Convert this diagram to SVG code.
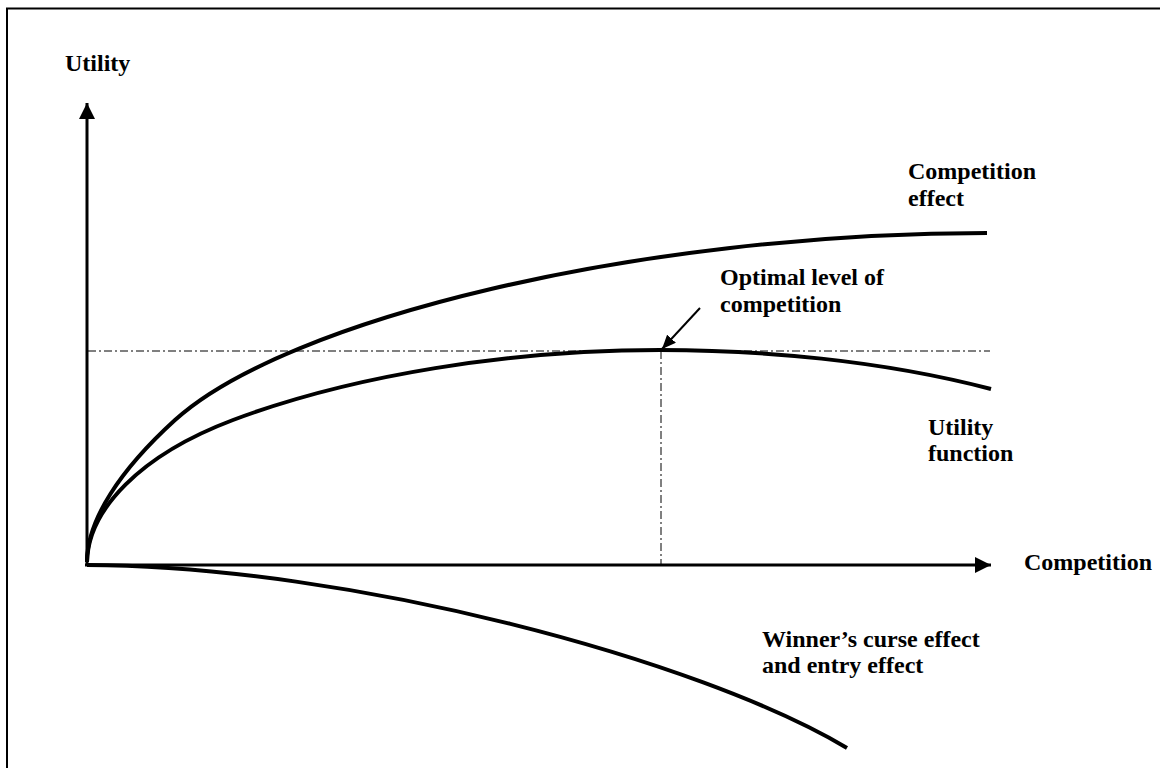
<svg xmlns="http://www.w3.org/2000/svg" width="1160" height="768" viewBox="0 0 1160 768">
<defs>
<style>
.t{font-family:"Liberation Serif","Times New Roman",serif;font-weight:bold;font-size:24px;fill:#000}
.c{fill:none;stroke:#000;stroke-width:4;stroke-linecap:butt}
.ax{fill:none;stroke:#000;stroke-width:3}
.dd{fill:none;stroke:#000;stroke-width:1;stroke-dasharray:8 3 2 3}
</style>
<marker id="ah" viewBox="0 0 16 16" refX="16" refY="8" markerWidth="16" markerHeight="16" markerUnits="userSpaceOnUse" orient="auto">
<path d="M0,0 L16,8 L0,16 Z" fill="#000"/>
</marker>
<marker id="ah2" viewBox="0 0 14 12" refX="14" refY="6" markerWidth="14" markerHeight="12" markerUnits="userSpaceOnUse" orient="auto">
<path d="M0,0 L14,6 L0,12 Z" fill="#000"/>
</marker>
</defs>
<rect x="7" y="8.5" width="1200" height="800" fill="#fff" stroke="#000" stroke-width="2"/>
<g id="connectors">
<line id="y-axis" class="ax" x1="87" y1="566" x2="87" y2="103" marker-end="url(#ah)"/>
<line id="x-axis" class="ax" x1="85" y1="565" x2="991" y2="565" marker-end="url(#ah)"/>
<line class="dd" x1="88" y1="351" x2="990" y2="351"/>
<line class="dd" x1="661" y1="351" x2="661" y2="565"/>
<line id="opt-arrow" x1="700" y1="308" x2="662" y2="349" stroke="#000" stroke-width="2" marker-end="url(#ah2)"/>
</g>
<g id="competition-effect">
<path class="c" d="M87,562 C87,520 120,470 175,420 C285,320 637,233 987,233"/>
<text class="t" x="908" y="179">Competition</text>
<text class="t" x="908" y="206">effect</text>
</g>
<g id="utility-function">
<path class="c" d="M87,562 C88,510 140,455 233,420 C353,375 510,350 660,350 C760,350 880,360 991,389"/>
<text class="t" x="928" y="435">Utility</text>
<text class="t" x="928" y="461">function</text>
</g>
<g id="winners-curse">
<path class="c" d="M87,565 C350,566 700,660 847,748"/>
<text class="t" x="762" y="647">Winner’s curse effect</text>
<text class="t" x="762" y="673">and entry effect</text>
</g>
<g id="optimal-label">
<text class="t" x="720" y="285">Optimal level of</text>
<text class="t" x="720" y="312">competition</text>
</g>
<g id="axis-labels">
<text class="t" x="65" y="71">Utility</text>
<text class="t" x="1024" y="570">Competition</text>
</g>
</svg>
